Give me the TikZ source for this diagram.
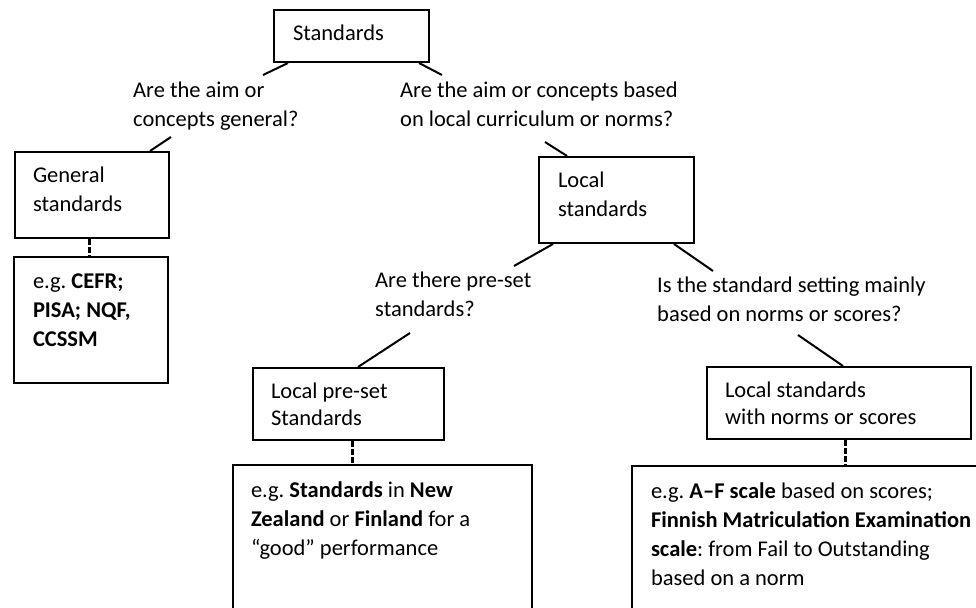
\documentclass[tikz,border=0pt]{standalone}
\usepackage{fontspec}
\setmainfont{Carlito}
\usetikzlibrary{calc}
\frenchspacing

\begin{document}
\begin{tikzpicture}[
			x = 1pt, y = -1pt,
			every node/.style = {font=\fontsize{22.5}{29}\selectfont},
			stdbox/.style = {draw, line width=2pt, anchor=north west, inner xsep=18pt, inner ysep=15pt},
			exbox/.style = {draw, line width=2pt, anchor=north west, inner xsep=19pt, inner ysep=17pt},
			question/.style = {anchor=north west, align=flush left, inner sep=0pt},
			link/.style = {line width=2pt},
			dlink/.style = {line width=3pt, dash pattern=on 6pt off 2pt}
			]

			\useasboundingbox (0,0) rectangle (976,607);
			\clip (0,0) rectangle (976,607);
			\fill[white] (0,0) rectangle (976,607);

			% boxes
			\node[stdbox, inner xsep=19pt] (std) at (273,9) {\parbox[t][22pt][t]{117pt}{Standards}};
			\node[stdbox] (gen) at (14,151) {\parbox[t][56pt][t]{118pt}{\raggedright General\\standards}};
			\node[stdbox, inner xsep=19pt] (loc) at (538,156) {\parbox[t][56pt][t]{117pt}{\raggedright Local\\standards}};
			\node[stdbox, font=\fontsize{22.5}{27}\selectfont] (pre) at (252,367) {\parbox[t][42pt][t]{155pt}{\raggedright Local pre-set\\Standards}};
			\node[stdbox, font=\fontsize{22.5}{27}\selectfont] (nrm) at (706,366) {\parbox[t][42pt][t]{228pt}{\raggedright Local standards\\with norms or scores}};

			% examples
			\node[exbox] (ex1) at (13,256) {\parbox[t][92pt][t]{116pt}{\raggedright e.g. \textbf{CEFR;}\\\textbf{PISA; NQF,}\\\textbf{CCSSM}}};
			\node[exbox, inner xsep=18pt] (ex2) at (232,464) {\parbox[t][200pt][t]{263pt}{\raggedright e.g. \textbf{Standards} in \textbf{New}\\\textbf{Zealand} or \textbf{Finland} for a\\“good” performance}};
			\node[exbox] (ex3) at (631,465) {\parbox[t][200pt][t]{330pt}{\raggedright e.g. \textbf{A–F scale} based on scores;\\\textbf{Finnish Matriculation Examination}\\\textbf{scale}: from Fail to Outstanding\\based on a norm}};

			% questions
			\node[question] (q1) at (133,82) {Are the aim or\\concepts general?};
			\node[question] (q2) at (400,82) {Are the aim or concepts based\\on local curriculum or norms?};
			\node[question] (q3) at (375,272) {Are there pre-set\\standards?};
			\node[question] (q4) at (657,277) {Is the standard setting mainly\\based on norms or scores?};

			\coordinate (q1in) at (263,75);
			\coordinate (q1out) at (171,137);
			\coordinate (q2in) at (442,75);
			\coordinate (q2out) at (545,142);
			\coordinate (q3in) at (514,266);
			\coordinate (q3out) at (410,333);
			\coordinate (q4in) at (713,271);
			\coordinate (q4out) at (798,335);

			\draw[link] ($(std.south west)+(15,0)$) -- (q1in);
			\draw[link] ($(std.south east)+(-11,0)$) -- (q2in);
			\draw[link] (q1out) -- ($(gen.north east)+(-20,0)$);
			\draw[link] (q2out) -- ($(loc.north west)+(29,0)$);
			\draw[link] ($(loc.south west)+(15,0)$) -- (q3in);
			\draw[link] ($(loc.south east)+(-21,0)$) -- (q4in);
			\draw[link] (q3out) -- ($(pre.north west)+(106,0)$);
			\draw[link] (q4out) -- ($(nrm.north west)+(137,0)$);

			\coordinate (genjoin) at ($(gen.south)+(-3,0)$);
			\coordinate (prejoin) at ($(pre.south)+(4,0)$);
			\coordinate (nrmjoin) at ($(nrm.south)+(6,0)$);
			\draw[dlink] (genjoin) -- (genjoin |- ex1.north);
			\draw[dlink] (prejoin) -- (prejoin |- ex2.north);
			\draw[dlink] (nrmjoin) -- (nrmjoin |- ex3.north);

		\end{tikzpicture}
\end{document}
